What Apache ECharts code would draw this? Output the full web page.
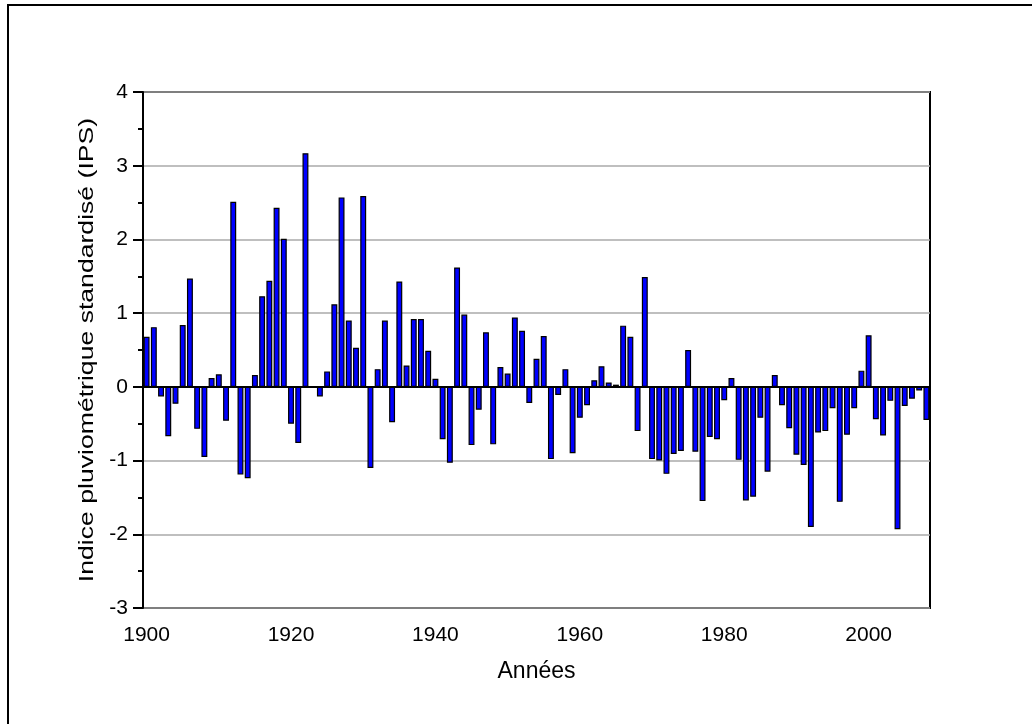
<!DOCTYPE html>
<html>
<head>
<meta charset="utf-8">
<script src="https://cdn.jsdelivr.net/npm/echarts@6/dist/echarts.min.js"></script>
<style>
  html, body { margin: 0; padding: 0; background: #fff; }
  #main { width: 1032px; height: 724px; }
</style>
</head>
<body>
<div id="main"></div>
<script>
// années 1900 - 2008
var years = [];
for (var y = 1900; y <= 2008; y++) years.push(String(y));

// indice pluviométrique standardisé
var ips1900 = [0.68, 0.81, -0.13, -0.67, -0.23, 0.84, 1.47, -0.57, -0.95, 0.12];
var ips1910 = [0.17, -0.46, 2.51, -1.19, -1.24, 0.16, 1.23, 1.44, 2.43, 2.01];
var ips1920 = [-0.50, -0.76, 3.17, 0.01, -0.13, 0.21, 1.12, 2.57, 0.90, 0.53];
var ips1930 = [2.59, -1.10, 0.24, 0.90, -0.48, 1.43, 0.29, 0.92, 0.92, 0.49];
var ips1940 = [0.11, -0.71, -1.03, 1.62, 0.98, -0.79, -0.31, 0.74, -0.78, 0.27];
var ips1950 = [0.18, 0.94, 0.76, -0.22, 0.38, 0.69, -0.98, -0.11, 0.24, -0.90];
var ips1960 = [-0.42, -0.25, 0.09, 0.28, 0.06, 0.03, 0.83, 0.68, -0.60, 1.49];
var ips1970 = [-0.98, -1.00, -1.18, -0.91, -0.87, 0.50, -0.88, -1.55, -0.68, -0.71];
var ips1980 = [-0.18, 0.12, -0.99, -1.54, -1.49, -0.42, -1.15, 0.16, -0.25, -0.56];
var ips1990 = [-0.92, -1.06, -1.90, -0.62, -0.60, -0.29, -1.56, -0.65, -0.29, 0.22];
var ips2000 = [0.70, -0.44, -0.66, -0.19, -1.93, -0.26, -0.16, -0.05, -0.45];

var ips = [].concat(ips1900, ips1910, ips1920, ips1930, ips1940, ips1950,
                    ips1960, ips1970, ips1980, ips1990, ips2000);

var yTitle = 'Indice pluviométrique standardisé (IPS)';

var chart = echarts.init(document.getElementById('main'));
var font = 'Liberation Sans, Arial, sans-serif';

var option = {
  backgroundColor: '#fff',
  animation: false,
  graphic: [{
    // cadre extérieur (seuls les bords haut et gauche sont visibles)
    type: 'rect',
    shape: { x: 8, y: 5, width: 1100, height: 800 },
    style: { fill: 'none', stroke: '#000', lineWidth: 2 }
  }, {
    // titre de l'axe y, un peu étiré dans le sens de la lecture comme sur l'original
    type: 'text',
    x: 87, y: 350,
    rotation: Math.PI / 2,
    scaleX: 1.33,
    style: {
      text: yTitle,
      font: '20px Liberation Sans, Arial, sans-serif',
      fill: '#000',
      align: 'center',
      verticalAlign: 'middle'
    }
  }],
  grid: {
    left: 143, right: 102, top: 92, bottom: 116,
    show: true, borderColor: '#000', borderWidth: 2, backgroundColor: 'transparent'
  },
  xAxis: [{
    type: 'category',
    data: years,
    boundaryGap: true,
    name: 'Années',
    nameLocation: 'middle',
    nameGap: 52,
    nameTextStyle: { fontFamily: font, fontSize: 23, color: '#000' },
    axisLine: { lineStyle: { color: '#000', width: 2 } },
    axisTick: {
      alignWithLabel: true, length: 9, lineStyle: { color: '#000', width: 2 },
      interval: function (i, v) { return Number(v) % 20 === 0; }
    },
    axisLabel: {
      interval: function (i, v) { return Number(v) % 20 === 0; },
      fontFamily: font, fontSize: 21, color: '#000', margin: 17
    },
    splitLine: { show: false }
  }, {
    // petites graduations tous les 10 ans
    type: 'category',
    data: years,
    position: 'bottom',
    boundaryGap: true,
    axisLine: { show: false },
    axisTick: {
      alignWithLabel: true, length: 5, lineStyle: { color: '#000', width: 2 },
      interval: function (i, v) { return Number(v) % 10 === 0; }
    },
    axisLabel: { show: false },
    splitLine: { show: false }
  }],
  yAxis: {
    type: 'value',
    min: -3, max: 4, interval: 1,
    axisLine: { show: true, lineStyle: { color: '#000', width: 2 } },
    axisTick: { show: true, length: 10, lineStyle: { color: '#000', width: 2 } },
    minorTick: { show: true, splitNumber: 2, length: 5, lineStyle: { color: '#000', width: 2 } },
    axisLabel: { fontFamily: font, fontSize: 21, color: '#000', margin: 15 },
    splitLine: { show: true, lineStyle: { color: '#aaa', width: 1.5 } }
  },
  series: [{
    type: 'bar',
    data: ips,
    barWidth: '82%',
    itemStyle: { color: '#0000ff', borderColor: '#000', borderWidth: 1.2 },
    markLine: {
      silent: true,
      symbol: 'none',
      label: { show: false },
      lineStyle: { color: '#000', width: 2, type: 'solid' },
      data: [{ yAxis: 0 }]
    }
  }]
};

chart.setOption(option);
</script>
</body>
</html>
